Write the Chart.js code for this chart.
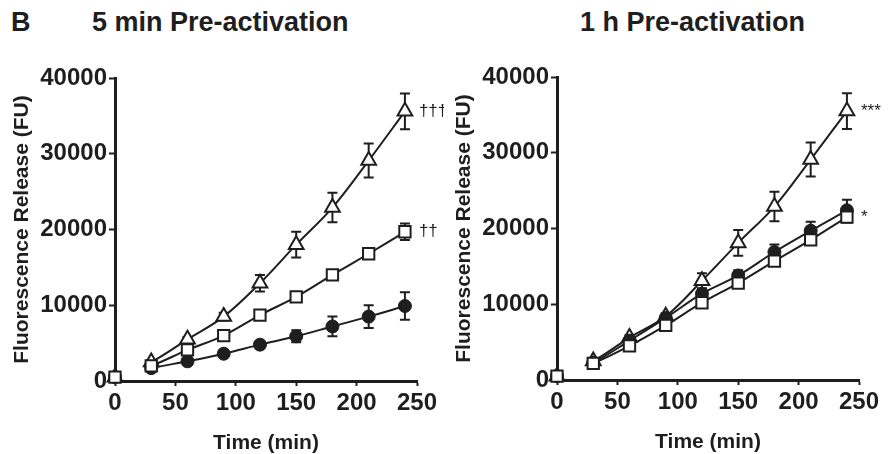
<!DOCTYPE html>
<html>
<head>
<meta charset="utf-8">
<script src="https://cdn.jsdelivr.net/npm/chart.js@4.4.1/dist/chart.umd.min.js"></script>
<style>
    html, body { margin: 0; padding: 0; background: #fff; }
    #fig { position: relative; width: 888px; height: 454px; overflow: hidden; font-family: 'Liberation Sans', Arial, Helvetica, sans-serif; color: #1e1e1e; }
    .label { position: absolute; font-weight: bold; font-size: 27px; line-height: 27px; white-space: nowrap; }
    canvas { position: absolute; }
</style>
</head>
<body>
<div id="fig">
    <div class="label" style="left:11px; top:9px;">B</div>
    <div class="label" style="left:92px; top:9px;">5 min Pre-activation</div>
    <div class="label" style="left:580px; top:9px;">1 h Pre-activation</div>
    <canvas id="panel5min" width="444" height="454" style="left:0; top:0;"></canvas>
    <canvas id="panel1h" width="444" height="454" style="left:442px; top:-1px;"></canvas>
</div>
<script>
// --- dados ---
const timeMin = [0, 30, 60, 90, 120, 150, 180, 210, 240];
const xTicks = [0, 50, 100, 150, 200, 250];
const yTicks = [0, 10000, 20000, 30000, 40000];

// 5 min pre-activation
const fiveSquare = [500, 2000, 4100, 6000, 8700, 11100, 14000, 16800, 19700];
const fiveSquareErr = [0, 100, 200, 300, 300, 300, 300, 500, 1100];
const fiveCircle = [500, 1700, 2600, 3600, 4800, 5900, 7200, 8500, 9900];
const fiveCircleErr = [0, 150, 200, 300, 400, 800, 1300, 1500, 1800];
const fiveTriangle = [500, 2500, 5500, 8500, 12900, 18000, 22900, 29100, 35600];
const fiveTriangleErr = [0, 200, 300, 500, 1100, 1700, 1950, 2250, 2350];
const fiveMarks = ['††', '', '†††'];

// 1 h pre-activation
const hourSquare = [500, 2200, 4500, 7200, 10200, 12800, 15700, 18500, 21500];
const hourSquareErr = [0, 100, 200, 300, 300, 400, 500, 600, 700];
const hourCircle = [500, 2300, 5200, 8200, 11400, 13800, 16900, 19700, 22400];
const hourCircleErr = [0, 200, 300, 400, 600, 700, 1000, 1200, 1400];
const hourTriangle = [500, 2500, 5600, 8400, 13100, 18100, 22900, 29100, 35500];
const hourTriangleErr = [0, 200, 300, 400, 1000, 1700, 1950, 2250, 2350];
const hourMarks = ['*', '', '***'];

const INK = '#1e1e1e';
const FONT = "'Liberation Sans', Arial, Helvetica, sans-serif";

// barras de erro desenhadas antes dos marcadores
const errorBars = {
    id: 'errorBars',
    beforeDatasetsDraw(chart) {
        const { ctx, scales: { x, y } } = chart;
        ctx.save();
        ctx.strokeStyle = INK;
        ctx.lineWidth = 2;
        chart.data.datasets.forEach(ds => {
            (ds.errors || []).forEach((e, i) => {
                if (!e) return;
                const px = x.getPixelForValue(ds.data[i].x);
                const top = y.getPixelForValue(ds.data[i].y + e);
                const bot = y.getPixelForValue(ds.data[i].y - e);
                ctx.beginPath();
                ctx.moveTo(px, top); ctx.lineTo(px, bot);
                ctx.moveTo(px - 5, top); ctx.lineTo(px + 5, top);
                ctx.moveTo(px - 5, bot); ctx.lineTo(px + 5, bot);
                ctx.stroke();
            });
        });
        ctx.restore();
    }
};

// marcas de significância ao lado do último ponto
const sigMarks = {
    id: 'sigMarks',
    afterDatasetsDraw(chart) {
        const { ctx, scales: { x, y } } = chart;
        ctx.save();
        ctx.fillStyle = INK;
        ctx.font = '17px ' + FONT;
        ctx.textAlign = 'left';
        ctx.textBaseline = 'middle';
        chart.data.datasets.forEach(ds => {
            if (!ds.mark) return;
            const last = ds.data[ds.data.length - 1];
            ctx.fillText(ds.mark, x.getPixelForValue(last.x) + 14, y.getPixelForValue(last.y));
        });
        ctx.restore();
    }
};

function series(values, errors, style, mark) {
    const base = {
        data: timeMin.map((t, i) => ({ x: t, y: values[i] })),
        errors: errors,
        mark: mark,
        borderColor: INK,
        borderWidth: 2,
        pointBorderColor: INK,
        pointBorderWidth: 2,
        tension: 0.35,
        clip: false,
        // sem linha entre t=0 e t=30
        segment: { borderColor: c => c.p0DataIndex === 0 ? 'rgba(0,0,0,0)' : undefined }
    };
    if (style === 'rect') return { ...base, pointStyle: 'rect', pointRadius: 8, pointBackgroundColor: '#fff' };
    if (style === 'triangle') return { ...base, pointStyle: 'triangle', pointRadius: 8.5, pointBackgroundColor: '#fff' };
    return { ...base, pointStyle: 'circle', pointRadius: 6.5, pointBorderWidth: 1, pointBackgroundColor: INK };
}

function createPanel(canvasId, datasets) {
    const tickFont = { family: FONT, size: 24, weight: 'bold' };
    const titleFont = { family: FONT, size: 21, weight: 'bold', lineHeight: 1 };
    return new Chart(document.getElementById(canvasId), {
        type: 'line',
        data: { datasets },
        plugins: [errorBars, sigMarks],
        options: {
            responsive: false,
            devicePixelRatio: 1,
            animation: false,
            layout: { padding: { top: 78, right: 27, bottom: 0, left: 0 } },
            plugins: { legend: { display: false }, tooltip: { enabled: false } },
            scales: {
                x: {
                    type: 'linear', min: 0, max: 250,
                    afterBuildTicks: s => { s.ticks = xTicks.map(v => ({ value: v })); },
                    afterFit: s => { s.height = 73; },
                    border: { color: INK, width: 3 },
                    grid: { drawOnChartArea: false, drawTicks: true, tickLength: 5, tickColor: INK, tickWidth: 2 },
                    ticks: { color: INK, font: tickFont, padding: 3, maxRotation: 0, callback: v => String(v) },
                    title: { display: true, text: 'Time (min)', color: INK, font: titleFont, padding: { top: 0, bottom: 0 } }
                },
                y: {
                    type: 'linear', min: 0, max: 40000,
                    afterBuildTicks: s => { s.ticks = yTicks.map(v => ({ value: v })); },
                    afterFit: s => { s.width = 115; },
                    border: { color: INK, width: 3 },
                    grid: { drawOnChartArea: false, drawTicks: true, tickLength: 6, tickColor: INK, tickWidth: 2 },
                    ticks: { color: INK, font: tickFont, padding: 2, callback: v => String(v) },
                    title: { display: true, text: 'Fluorescence Release (FU)', color: INK, font: titleFont, padding: { top: 12, bottom: 0 } }
                }
            }
        }
    });
}

createPanel('panel5min', [
    series(fiveSquare, fiveSquareErr, 'rect', fiveMarks[0]),
    series(fiveCircle, fiveCircleErr, 'circle', fiveMarks[1]),
    series(fiveTriangle, fiveTriangleErr, 'triangle', fiveMarks[2])
]);

createPanel('panel1h', [
    series(hourSquare, hourSquareErr, 'rect', hourMarks[0]),
    series(hourCircle, hourCircleErr, 'circle', hourMarks[1]),
    series(hourTriangle, hourTriangleErr, 'triangle', hourMarks[2])
]);
</script>
</body>
</html>
